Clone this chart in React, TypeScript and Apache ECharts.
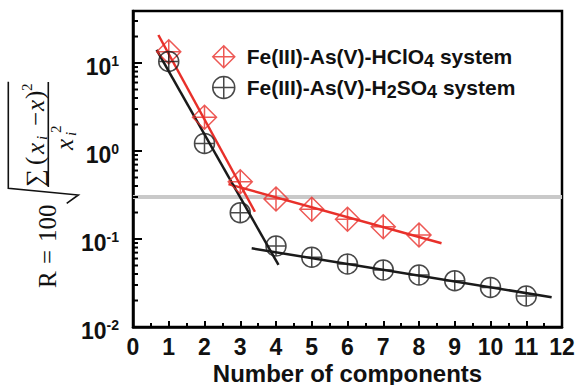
import React, { useEffect, useRef } from 'react';
import * as echarts from 'echarts';

// ---------- data ----------
const xTickValues = [0, 1, 2, 3, 4, 5, 6, 7, 8, 9, 10, 11, 12];
const xAxisTitle = 'Number of components';
const hclo4X = [1, 2, 3, 4, 5, 6, 7, 8];
const hclo4Y = [13.4, 2.42, 0.448, 0.285, 0.2175, 0.1675, 0.138, 0.111];
const h2so4X = [1, 2, 3, 4, 5, 6, 7, 8, 9, 10, 11];
const h2so4Y = [10.4, 1.22, 0.199, 0.083, 0.062, 0.052, 0.0445, 0.039, 0.0336, 0.0282, 0.0225];
const redFitSteepX = [0.71, 3.41];
const redFitSteepY = [20.8, 0.204];
const redFitFlatX = [2.67, 8.63];
const redFitFlatY = [0.42, 0.0893];
const blackFitSteepX = [0.66, 4.07];
const blackFitSteepY = [14.1, 0.0507];
const blackFitFlatX = [3.32, 11.71];
const blackFitFlatY = [0.0783, 0.0218];
const thresholdX = [0, 12];
const thresholdValue = 0.3;
const yMin = 0.01;
const yMax = 39;
const minorMantissas = [2, 3, 4, 5, 6, 7, 8, 9];
const decades = [0.01, 0.1, 1, 10];

const S1 = 'Fe(III)-As(V)-HClO4 system';
const S2 = 'Fe(III)-As(V)-H2SO4 system';

const RED = '#e8302a';
const BLACK = '#1a1a1a';
const SANS = '"Liberation Sans", Arial, sans-serif';
const SERIF = '"Liberation Serif", "DejaVu Serif", serif';

const diamondPath = 'path://M0,-10L10,0L0,10L-10,0ZM0,-10L0,10M-10,0L10,0';
const circlePath = 'path://M10,0A10,10,0,1,1,-10,0A10,10,0,1,1,10,0ZM0,-10L0,10M-10,0L10,0';

const zip = (xs: number[], ys: number[]) => xs.map((x, i) => [x, ys[i]]);

const minorTicks: number[] = [];
decades.forEach((d) => minorMantissas.forEach((m) => {
  const v = d * m;
  if (v < yMax) minorTicks.push(v);
}));

function yAxisNameGraphic() {
  const t = (text: string, u: number, v: number, size: number, italic = false) => ({
    type: 'text',
    x: u,
    y: v,
    style: {
      text,
      fontSize: size,
      fontFamily: SERIF,
      fontStyle: italic ? 'italic' : 'normal',
      fill: '#111',
      align: 'left',
      verticalAlign: 'middle',
    },
  });
  return {
    type: 'group',
    x: 0,
    y: 300,
    rotation: Math.PI / 2,
    children: [
      t('R', 12, 47, 25),
      t('=', 36, 47, 25),
      t('100', 58, 47, 25),
      {
        type: 'polyline',
        shape: { points: [[96.7, 66.7], [105, 78.3], [111.7, 8.3], [218.3, 8.3]] },
        style: { stroke: '#111', lineWidth: 1.6, fill: null },
      },
      {
        type: 'line',
        shape: { x1: 113, y1: 48.3, x2: 218, y2: 48.3 },
        style: { stroke: '#111', lineWidth: 1.6 },
      },
      t('\u2211', 113, 34, 25),
      t('(', 135, 34, 25),
      t('x', 146, 35, 25, true),
      t('i', 160, 42, 15, true),
      t('\u2212', 174, 35, 25),
      t('x', 189, 35, 25, true),
      t(')', 201, 34, 25),
      t('2', 209, 27, 15),
      t('x', 150, 64, 25, true),
      t('i', 164, 71, 15, true),
      t('2', 167, 56, 15),
    ],
  };
}

export default function App() {
  const ref = useRef<HTMLDivElement>(null);
  useEffect(() => {
    if (!ref.current) return;
    const chart = echarts.init(ref.current, undefined, { renderer: 'svg' });
    const option: any = {
      animation: false,
      grid: {
        left: 133, right: 15, top: 11, bottom: 58,
        containLabel: false,
        outerBoundsMode: 'none',
        show: true, borderColor: '#000', borderWidth: 2.5, backgroundColor: 'transparent',
      },
      xAxis: {
        type: 'value',
        min: xTickValues[0],
        max: xTickValues[xTickValues.length - 1],
        interval: 1,
        axisLine: { lineStyle: { color: '#000', width: 2.5 } },
        axisTick: { inside: true, length: 6, lineStyle: { color: '#000', width: 2 } },
        minorTick: { show: true, splitNumber: 2, length: 4, lineStyle: { color: '#000', width: 2 } },
        splitLine: { show: false },
        axisLabel: { fontSize: 23, fontWeight: 'bold', color: '#111', fontFamily: SANS, margin: 8 },
      },
      yAxis: {
        type: 'log',
        logBase: 10,
        min: yMin,
        max: yMax,
        axisLine: { lineStyle: { color: '#000', width: 2.5 } },
        axisTick: { inside: true, length: 9, lineStyle: { color: '#000', width: 2 } },
        splitLine: { show: false },
        axisLabel: {
          margin: 14,
          padding: [8, 0, 0, 0],
          formatter: (v: number) => {
            const l = Math.log10(v);
            const e = Math.round(l);
            if (Math.abs(l - e) > 1e-6) return '';
            return `{b|10}{s|${e}}`;
          },
          rich: {
            b: { fontSize: 23, fontWeight: 'bold', color: '#111', fontFamily: SANS },
            s: { fontSize: 14, fontWeight: 'bold', color: '#111', fontFamily: SANS, padding: [0, 0, 13, 0] },
          },
        },
      },
      legend: {
        orient: 'vertical',
        left: 212,
        top: 45,
        padding: 0,
        itemWidth: 22,
        itemHeight: 22,
        itemGap: 6,
        data: [
          { name: S1, icon: diamondPath, itemStyle: { color: 'rgba(0,0,0,0)', borderColor: RED, borderWidth: 1.5 } },
          { name: S2, icon: circlePath, itemStyle: { color: 'rgba(0,0,0,0)', borderColor: BLACK, borderWidth: 1.5 } },
        ],
        formatter: (name: string) =>
          name === S1
            ? '{t|Fe(III)-As(V)-HClO}{sub|4}{t| system}'
            : '{t|Fe(III)-As(V)-H}{sub|2}{t|SO}{sub|4}{t| system}',
        textStyle: {
          padding: [0, 0, 0, 7],
          rich: {
            t: { fontSize: 21, fontWeight: 'bold', color: '#111', fontFamily: SANS },
            sub: { fontSize: 18, fontWeight: 'bold', color: '#111', fontFamily: SANS, padding: [8, 0, 0, 0] },
          },
        },
      },
      graphic: [
        yAxisNameGraphic(),
        {
          type: 'text',
          x: 347.5,
          y: 373,
          style: {
            text: xAxisTitle,
            fontSize: 24,
            fontWeight: 'bold',
            fontFamily: SANS,
            fill: '#111',
            align: 'center',
            verticalAlign: 'middle',
          },
        },
      ],
      series: [
        {
          type: 'line', data: zip(thresholdX, [thresholdValue, thresholdValue]),
          symbol: 'none', lineStyle: { color: '#c9c9c9', width: 4 }, z: 1, silent: true,
        },
        {
          type: 'custom', coordinateSystem: 'cartesian2d', silent: true, clip: false, z: 5,
          data: minorTicks.map((v) => [0, v]),
          renderItem: (_p: any, api: any) => {
            const p = api.coord([api.value(0), api.value(1)]);
            return {
              type: 'line',
              shape: { x1: p[0], y1: p[1], x2: p[0] + 5, y2: p[1] },
              style: { stroke: '#000', lineWidth: 2 },
            };
          },
        },
        {
          type: 'line', data: zip(redFitSteepX, redFitSteepY), symbol: 'none',
          lineStyle: { color: RED, width: 2.5 }, z: 3,
        },
        {
          type: 'line', data: zip(redFitFlatX, redFitFlatY), symbol: 'none',
          lineStyle: { color: RED, width: 2.5 }, z: 3,
        },
        {
          type: 'line', data: zip(blackFitSteepX, blackFitSteepY), symbol: 'none',
          lineStyle: { color: BLACK, width: 2.5 }, z: 3,
        },
        {
          type: 'line', data: zip(blackFitFlatX, blackFitFlatY), symbol: 'none',
          lineStyle: { color: BLACK, width: 2.5 }, z: 3,
        },
        {
          name: S1, type: 'scatter', data: zip(hclo4X, hclo4Y), symbol: diamondPath, symbolSize: 24,
          itemStyle: { color: 'rgba(0,0,0,0)', borderColor: RED, borderWidth: 1.5 }, z: 4,
        },
        {
          name: S2, type: 'scatter', data: zip(h2so4X, h2so4Y), symbol: circlePath, symbolSize: 20,
          itemStyle: { color: 'rgba(0,0,0,0)', borderColor: BLACK, borderWidth: 1.5 }, z: 4,
        },
      ],
    };
    chart.setOption(option);
    return () => chart.dispose();
  }, []);
  return <div ref={ref} style={{ width: 577, height: 385, position: 'absolute', left: 0, top: 0 }} />;
}
